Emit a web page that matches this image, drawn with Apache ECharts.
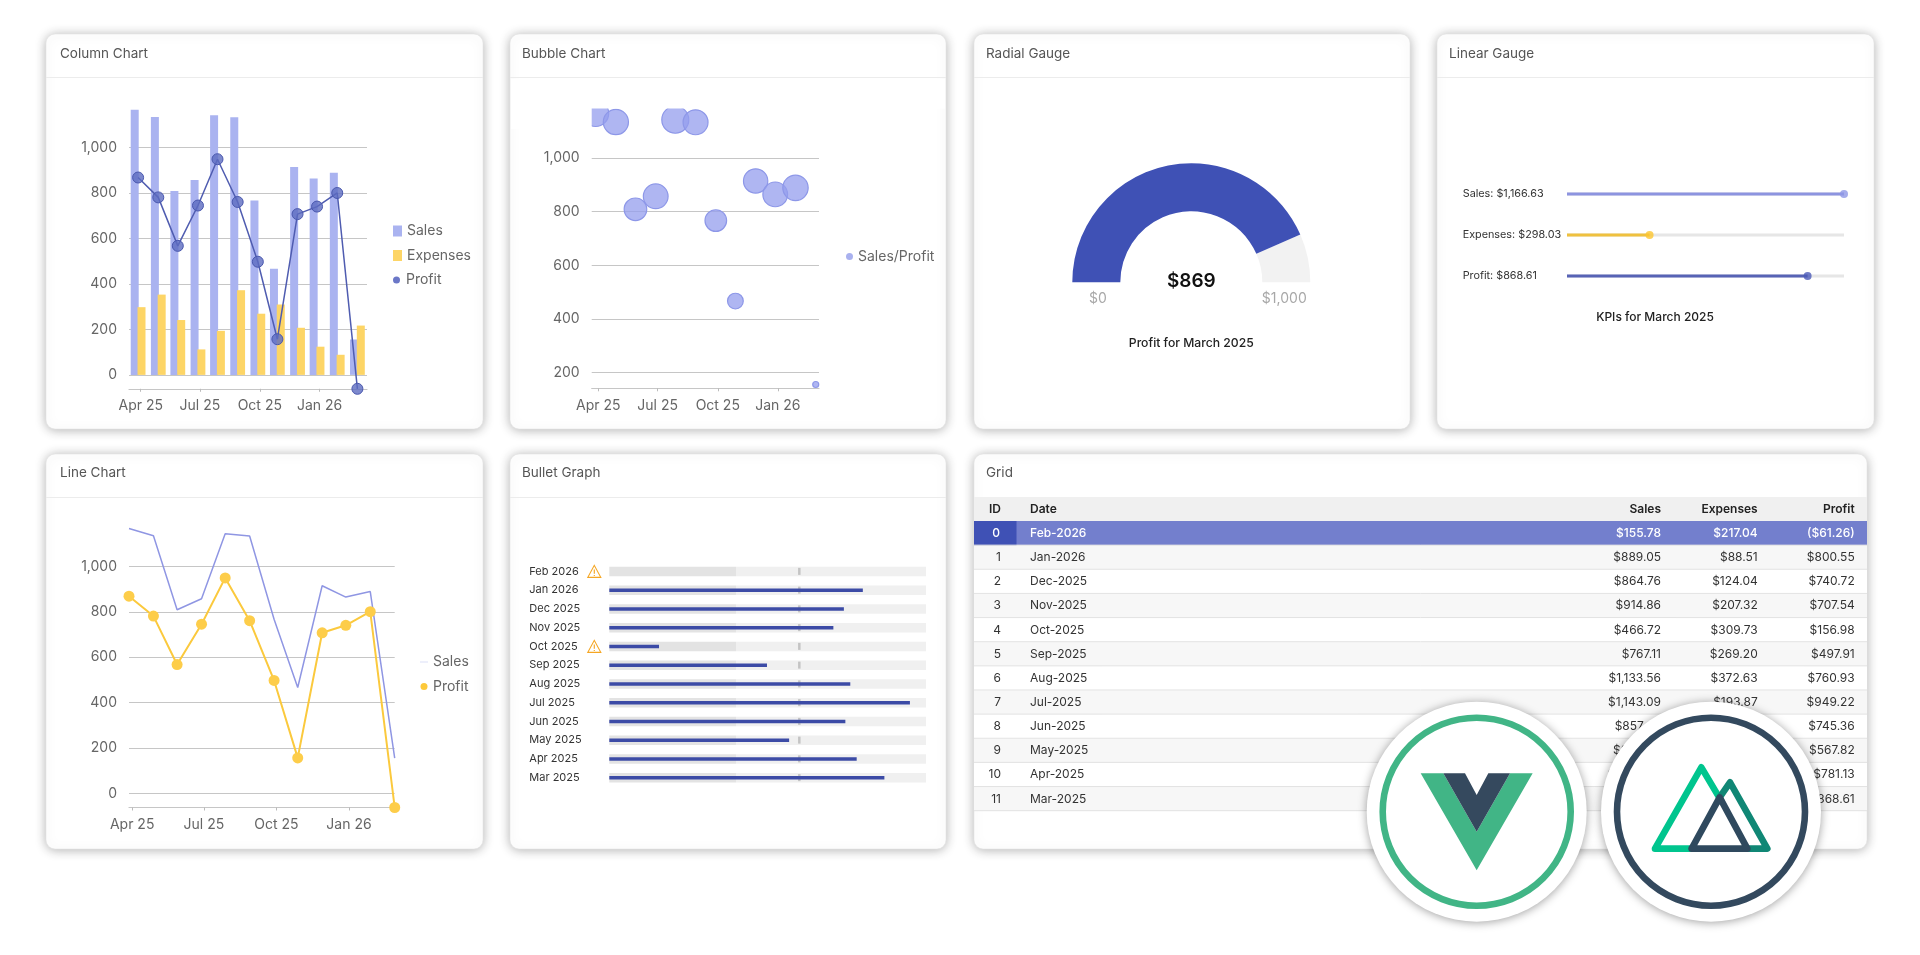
<!DOCTYPE html>
<html>
<head>
<meta charset="utf-8">
<style>html,body{margin:0;padding:0;background:#fff;overflow:hidden}#c{width:1920px;height:955px}</style>
<script src="https://cdn.jsdelivr.net/npm/echarts@6/dist/echarts.min.js"></script>
</head>
<body>
<div id="c"></div>
<script>
// ---------- data ----------
const monthDates = ['2025-03-28','2025-04-28','2025-05-28','2025-06-28','2025-07-28','2025-08-28','2025-09-28','2025-10-28','2025-11-28','2025-12-28','2026-01-28','2026-02-28'];
const tableDates = ['Mar-2025','Apr-2025','May-2025','Jun-2025','Jul-2025','Aug-2025','Sep-2025','Oct-2025','Nov-2025','Dec-2025','Jan-2026','Feb-2026'];
const bulletLabels = ['Mar 2025','Apr 2025','May 2025','Jun 2025','Jul 2025','Aug 2025','Sep 2025','Oct 2025','Nov 2025','Dec 2025','Jan 2026','Feb 2026'];
const sales =    [1166.63,1134.46,809.22,857.48,1143.09,1133.56,767.11,466.72,914.86,864.76,889.05,155.78];
const expenses = [298.03,353.33,241.40,112.12,193.87,372.63,269.20,309.73,207.32,124.04,88.51,217.04];
const profit =   [868.61,781.13,567.82,745.36,949.22,760.93,497.91,156.98,707.54,740.72,800.55,-61.26];
const xTicks = ['2025-04-01','2025-07-01','2025-10-01','2026-01-01'];
const yTicksA = [0,200,400,600,800,1000];
const yTicksB = [200,400,600,800,1000];
const kpiNames = ['Sales','Expenses','Profit'];
const kpiValues = [1166.63,298.03,868.61];
const gaugeMin = 0, gaugeMax = 1000;
const bulletBands = [400,600];
const bulletTarget = 600;
const cardTitles = ['Column Chart','Bubble Chart','Radial Gauge','Linear Gauge','Line Chart','Bullet Graph','Grid'];
const tableHeaders = ['ID','Date','Sales','Expenses','Profit'];

// ---------- helpers ----------
const FONT = 'Inter, "Noto Sans", sans-serif';
const money = v => (v<0?'($':'$') + Math.abs(v).toLocaleString('en-US',{minimumFractionDigits:2,maximumFractionDigits:2}) + (v<0?')':'');
const pair = arr => monthDates.map((d,i)=>[d,arr[i]]);
const GRIDC = '#c6c6c6', LABC = '#666';

function yAxis(gridIndex,min,max,ticks){
  return {type:'value',gridIndex,min,max,
    axisLine:{show:false},
    axisTick:{show:false,customValues:ticks},
    axisLabel:{color:LABC,fontSize:14,margin:12,fontFamily:FONT,customValues:ticks,formatter:v=>v.toLocaleString('en-US')},
    splitLine:{show:true,lineStyle:{color:GRIDC,width:1.2}}};
}
function xAxis(gridIndex,min,max){
  return {type:'time',gridIndex,min,max,
    axisLine:{onZero:false,lineStyle:{color:GRIDC,width:1.2}},
    axisTick:{show:true,length:3,lineStyle:{color:'#bbb'},customValues:xTicks},
    axisLabel:{color:LABC,fontSize:14,margin:10,fontFamily:FONT,customValues:xTicks,hideOverlap:false,formatter:'{MMM} {yy}',showMinLabel:true,showMaxLabel:true},
    splitLine:{show:false}};
}

// ---------- page furniture ----------
const g = [];
const cards = [[46,34,437,395],[510,34,436,395],[974,34,436,395],[1437,34,437,395],[46,454,437,395],[510,454,436,395],[974,454,893,395]];
cards.forEach(c=>{
  g.push({type:'rect',silent:true,z:0,shape:{x:c[0],y:c[1],width:c[2],height:c[3],r:9},
    style:{fill:'#fff',stroke:'#e4e4e4',lineWidth:0.6,shadowBlur:11,shadowColor:'rgba(0,0,0,0.30)',shadowOffsetY:1}});
  g.push({type:'line',silent:true,z:1,shape:{x1:c[0],y1:c[1]+43.5,x2:c[0]+c[2],y2:c[1]+43.5},style:{stroke:'#ececec',lineWidth:1}});
});
// the bubble plot is cut off at its top and left edges
const maskStyle = {fill:'#fff'};
g.push({type:'rect',silent:true,z:3.5,shape:{x:511,y:79,width:434,height:29.5},style:maskStyle});
g.push({type:'rect',silent:true,z:3.5,shape:{x:511,y:79,width:80.7,height:50},style:maskStyle});

// table
const T = {left:974,right:1867,headTop:497,headH:24,rowH:24.14};
const colX = {id:1001,date:1030,sales:1661,exp:1757.7,prof:1854.7};
const txt = (x,y,t,o)=>({type:'text',silent:true,z:6,x,y,style:Object.assign({text:t,fontFamily:FONT,fontSize:12,fill:'#333',textVerticalAlign:'middle',verticalAlign:'middle'},o||{})});
g.push({type:'rect',silent:true,z:2,shape:{x:T.left,y:T.headTop,width:T.right-T.left,height:T.headH},style:{fill:'#f0f0f0'}});
const H = {fontWeight:600,fill:'#222'};
const headY = T.headTop+T.headH/2;
g.push(txt(colX.id,headY,tableHeaders[0],Object.assign({align:'right'},H)));
g.push(txt(colX.date,headY,tableHeaders[1],Object.assign({align:'left'},H)));
g.push(txt(colX.sales,headY,tableHeaders[2],Object.assign({align:'right'},H)));
g.push(txt(colX.exp,headY,tableHeaders[3],Object.assign({align:'right'},H)));
g.push(txt(colX.prof,headY,tableHeaders[4],Object.assign({align:'right'},H)));
const n = tableDates.length;
for(let r=0;r<n;r++){
  const i = n-1-r, top = T.headTop+T.headH+r*T.rowH, y = top+T.rowH/2+0.3, sel = r===0;
  const bg = sel?'#737fcd':(r%2? '#f7f7f7':'#ffffff');
  g.push({type:'rect',silent:true,z:2,shape:{x:T.left,y:top,width:T.right-T.left,height:T.rowH},style:{fill:bg}});
  if(sel) g.push({type:'rect',silent:true,z:3,shape:{x:T.left,y:top,width:42.5,height:T.rowH},style:{fill:'#3f51b5'}});
  g.push({type:'line',silent:true,z:3,shape:{x1:T.left,y1:top+T.rowH,x2:T.right,y2:top+T.rowH},style:{stroke:'#e3e3e3',lineWidth:1}});
  const o = sel?{fill:'#fff',fontWeight:500}:{};
  g.push(txt(colX.id-(sel?1:0),y,String(r),Object.assign({align:'right'},o)));
  g.push(txt(colX.date,y,tableDates[i],Object.assign({align:'left'},o)));
  g.push(txt(colX.sales,y,money(sales[i]),Object.assign({align:'right'},o)));
  g.push(txt(colX.exp,y,money(expenses[i]),Object.assign({align:'right'},o)));
  g.push(txt(colX.prof,y,money(profit[i]),Object.assign({align:'right'},o)));
}

// radial gauge end labels
g.push(txt(1098,299,'$'+gaugeMin.toLocaleString('en-US'),{align:'center',fontSize:14,fill:'#a8a8a8'}));
g.push(txt(1284.3,299,'$'+gaugeMax.toLocaleString('en-US'),{align:'center',fontSize:14,fill:'#a8a8a8'}));
g.push(txt(1655,317,'KPIs for March 2025',{align:'center',fontSize:12,fontWeight:500,fill:'#222'}));

// logos
const zx = p=>[1350+p[0]/3,690+p[1]/3];
const LZ = 50;
[[1476.7,'#41b586'],[1711,'#33495e']].forEach(([cx,col])=>{
  g.push({type:'circle',silent:true,z:LZ,shape:{cx,cy:811.7,r:110},style:{fill:'#fff',shadowBlur:10,shadowColor:'rgba(0,0,0,0.38)',shadowOffsetY:1}});
  g.push({type:'circle',silent:true,z:LZ+1,shape:{cx,cy:811.7,r:94},style:{fill:'none',stroke:col,lineWidth:6.6}});
});
g.push({type:'polygon',silent:true,z:LZ+2,shape:{points:[[212,250],[280,250],[380,425],[480,250],[548,250],[380,541]].map(zx)},style:{fill:'#41b586'}});
g.push({type:'polygon',silent:true,z:LZ+2,shape:{points:[[280,250],[345,250],[380,315],[415,250],[480,250],[380,425]].map(zx)},style:{fill:'#35495e'}});
const pl = (pts,col,z)=>({type:'polyline',silent:true,z,shape:{points:pts.map(zx)},style:{fill:'none',stroke:col,lineWidth:6.6,lineCap:'round',lineJoin:'round'}});
g.push(pl([[1025,476],[915,476],[1054,232],[1115,335]],'#00c58e',LZ+2));
g.push(pl([[1109,322],[1140,277],[1252,476],[1192,476]],'#108775',LZ+2));
g.push(pl([[1025,476],[1192,476],[1109,322],[1025,476]],'#2f495e',LZ+3));

// ---------- option ----------
const titlePos = [[60,47],[522,47],[986,47],[1449,47],[60,466],[522,466],[986,466]];
const legendText = {color:'#666',fontSize:14,fontFamily:FONT};
const bulletCats = bulletLabels.slice().reverse();
const bulletVals = profit.slice().reverse();
const gaugeClamp = kpiValues.map(v=>Math.min(v,gaugeMax));

const option = {
  animation:false,
  backgroundColor:'#fff',
  textStyle:{fontFamily:FONT},
  title:cardTitles.map((t,i)=>({text:t,left:titlePos[i][0],top:titlePos[i][1],padding:0,textStyle:{fontSize:13.5,fontWeight:400,color:'#555',fontFamily:FONT}})),
  legend:[
    {orient:'vertical',left:393,top:224,itemWidth:9,itemHeight:11,itemGap:10.5,textStyle:legendText,padding:0,selectedMode:false,
      data:[{name:'Sales',icon:'rect',itemStyle:{color:'#aab3f0',borderWidth:0}},{name:'Expenses',icon:'rect',itemStyle:{color:'#fdd566',borderWidth:0}}]},
    {orient:'vertical',left:393,top:273,itemWidth:9,itemHeight:7,textStyle:legendText,padding:0,selectedMode:false,
      data:[{name:'Profit',icon:'circle',itemStyle:{color:'#6b77c7',borderWidth:0}}]},
    {orient:'vertical',left:846,top:249.5,itemWidth:7,itemHeight:7,textStyle:legendText,padding:0,selectedMode:false,
      data:[{name:'Sales/Profit',icon:'circle',itemStyle:{color:'#a9b1ef',borderWidth:0}}]},
    {orient:'vertical',left:420,top:655,itemWidth:8,itemHeight:7,itemGap:10.5,textStyle:legendText,padding:0,selectedMode:false,
      data:[{name:'Sales',icon:'path://M0 4.5H8V5.2H0Z',itemStyle:{color:'#ccd0f4',borderWidth:0}},{name:'Profit',icon:'circle',itemStyle:{color:'#fdc93a',borderWidth:0}}]}
  ],
  grid:[
    {left:129,width:238,top:109.8,height:279},                      // column
    {left:591.7,width:227.3,top:108.5,height:279.8},                // bubble
    {left:129,width:265.7,top:528.5,height:279},                    // line
    {left:609.3,width:316.7,top:562,height:225},                    // bullet
    {left:1567,width:277,top:173.5,height:123}                      // linear gauge
  ],
  xAxis:[
    // ECharts widens a time axis that holds bars, so these limits sit inside the drawn span
    xAxis(0,'2025-03-25 09:00','2026-03-03 09:00'),
    xAxis(1,'2025-03-22','2026-03-05'),
    xAxis(2,'2025-03-28','2026-02-28'),
    {type:'value',gridIndex:3,min:gaugeMin,max:gaugeMax,show:false},
    {type:'value',gridIndex:4,min:gaugeMin,max:gaugeMax,show:false}
  ],
  yAxis:[
    yAxis(0,-61.26,1166.63,yTicksA),
    yAxis(1,141.6,1185,yTicksB),
    yAxis(2,-61.26,1166.63,yTicksA),
    {type:'category',gridIndex:3,inverse:true,data:bulletCats,axisLine:{show:false},axisTick:{show:false},splitLine:{show:false},
      axisLabel:{align:'left',margin:80,fontSize:11,color:'#333',fontFamily:FONT}},
    {type:'category',gridIndex:3,inverse:true,data:bulletCats,show:false},
    {type:'category',gridIndex:4,inverse:true,data:kpiValues.map((v,i)=>kpiNames[i]+': '+money(v)),axisLine:{show:false},axisTick:{show:false},splitLine:{show:false},
      axisLabel:{align:'left',margin:104.3,fontSize:10.8,color:'#333',fontFamily:FONT}}
  ],
  series:[
    // column chart
    {name:'Sales',type:'bar',xAxisIndex:0,yAxisIndex:0,data:pair(sales),barWidth:8,barGap:'-15%',itemStyle:{color:'#aab3f0'},z:2},
    {name:'Expenses',type:'bar',xAxisIndex:0,yAxisIndex:0,data:pair(expenses),barWidth:8,itemStyle:{color:'#fdd566'},z:3},
    {name:'Profit',type:'line',xAxisIndex:0,yAxisIndex:0,data:pair(profit),symbol:'circle',symbolSize:11,clip:false,
      lineStyle:{color:'#4f5cb0',width:1.5},itemStyle:{color:'rgba(92,107,192,0.8)',borderColor:'#4a58ae',borderWidth:1},z:4},
    // bubble chart
    {name:'Sales/Profit',type:'scatter',xAxisIndex:1,yAxisIndex:1,clip:false,
      data:monthDates.map((d,i)=>[d,sales[i],profit[i]]),
      symbolSize:v=>6+21*Math.sqrt(Math.max(0,v[2]+61.26)/1010.48),
      itemStyle:{color:'rgba(148,158,238,0.75)',borderColor:'#8d97e8',borderWidth:1.2,opacity:1},z:3},
    // line chart
    {name:'Sales',type:'line',xAxisIndex:2,yAxisIndex:2,data:pair(sales),symbol:'none',lineStyle:{color:'#8f96e3',width:1.5},clip:false,z:3},
    {name:'Profit',type:'line',xAxisIndex:2,yAxisIndex:2,data:pair(profit),symbol:'circle',symbolSize:11,clip:false,
      lineStyle:{color:'#fbc93d',width:2},itemStyle:{color:'#fdcd4a',opacity:1},z:4},
    // radial gauge
    {type:'gauge',center:[1191.3,282.3],radius:119,startAngle:180,endAngle:0,min:gaugeMin,max:gaugeMax,
      axisLine:{lineStyle:{width:48,color:[[kpiValues[2]/gaugeMax,'#3f51b5'],[1,'#f2f2f2']]}},
      axisTick:{show:false},splitLine:{show:false},axisLabel:{show:false},pointer:{show:false},anchor:{show:false},
      title:{offsetCenter:[0,61],fontSize:12.2,fontWeight:500,color:'#222',fontFamily:FONT},
      detail:{offsetCenter:[0,-1.5],fontSize:19,fontWeight:600,color:'#111',fontFamily:FONT,formatter:v=>'$'+Math.round(v)},
      data:[{value:kpiValues[2],name:'Profit for March 2025'}]},
    // linear gauge
    {type:'bar',xAxisIndex:4,yAxisIndex:5,barWidth:3,showBackground:true,backgroundStyle:{color:'#e6e6e6'},
      data:[{value:gaugeClamp[0],itemStyle:{color:'#8d94e0'}},{value:gaugeClamp[1],itemStyle:{color:'#efc13f'}},{value:gaugeClamp[2],itemStyle:{color:'#5763b5'}}],z:3},
    {type:'scatter',xAxisIndex:4,yAxisIndex:5,symbolSize:8,clip:false,
      data:[{value:[gaugeClamp[0],0],itemStyle:{color:'#8f97e6'}},{value:[gaugeClamp[1],1],itemStyle:{color:'#fdc52f'}},{value:[gaugeClamp[2],2],itemStyle:{color:'#4b5ab8'}}],z:4},
    // bullet graph
    {type:'bar',xAxisIndex:3,yAxisIndex:3,stack:'bands',barWidth:9.5,data:bulletCats.map(()=>bulletBands[0]),itemStyle:{color:'#e3e3e3'},z:2},
    {type:'bar',xAxisIndex:3,yAxisIndex:3,stack:'bands',barWidth:9.5,data:bulletCats.map(()=>bulletBands[1]),itemStyle:{color:'#f0f0f0'},z:2},
    {type:'scatter',xAxisIndex:3,yAxisIndex:4,symbol:'rect',symbolSize:[2.5,7],data:bulletCats.map(c=>[bulletTarget,c]),itemStyle:{color:'#c4c4c4',opacity:1},z:3},
    {type:'bar',xAxisIndex:3,yAxisIndex:4,barWidth:3.5,clip:true,data:bulletVals,itemStyle:{color:'#3c4ba6'},z:4},
    {type:'scatter',xAxisIndex:3,yAxisIndex:4,clip:false,symbol:'path://M8 1L15 14H1ZM8 5.5V10M8 11.5V12.5',symbolSize:[13,12],symbolOffset:[-15,0],
      data:bulletCats.map((c,i)=>bulletVals[i]<bulletBands[0]?[0,c]:null).filter(Boolean),
      itemStyle:{color:'rgba(0,0,0,0)',borderColor:'#f5a623',borderWidth:1.1,opacity:1},z:5}
  ],
  graphic:{elements:g}
};
const chart = echarts.init(document.getElementById('c'));
chart.setOption(option);
</script>
</body>
</html>
